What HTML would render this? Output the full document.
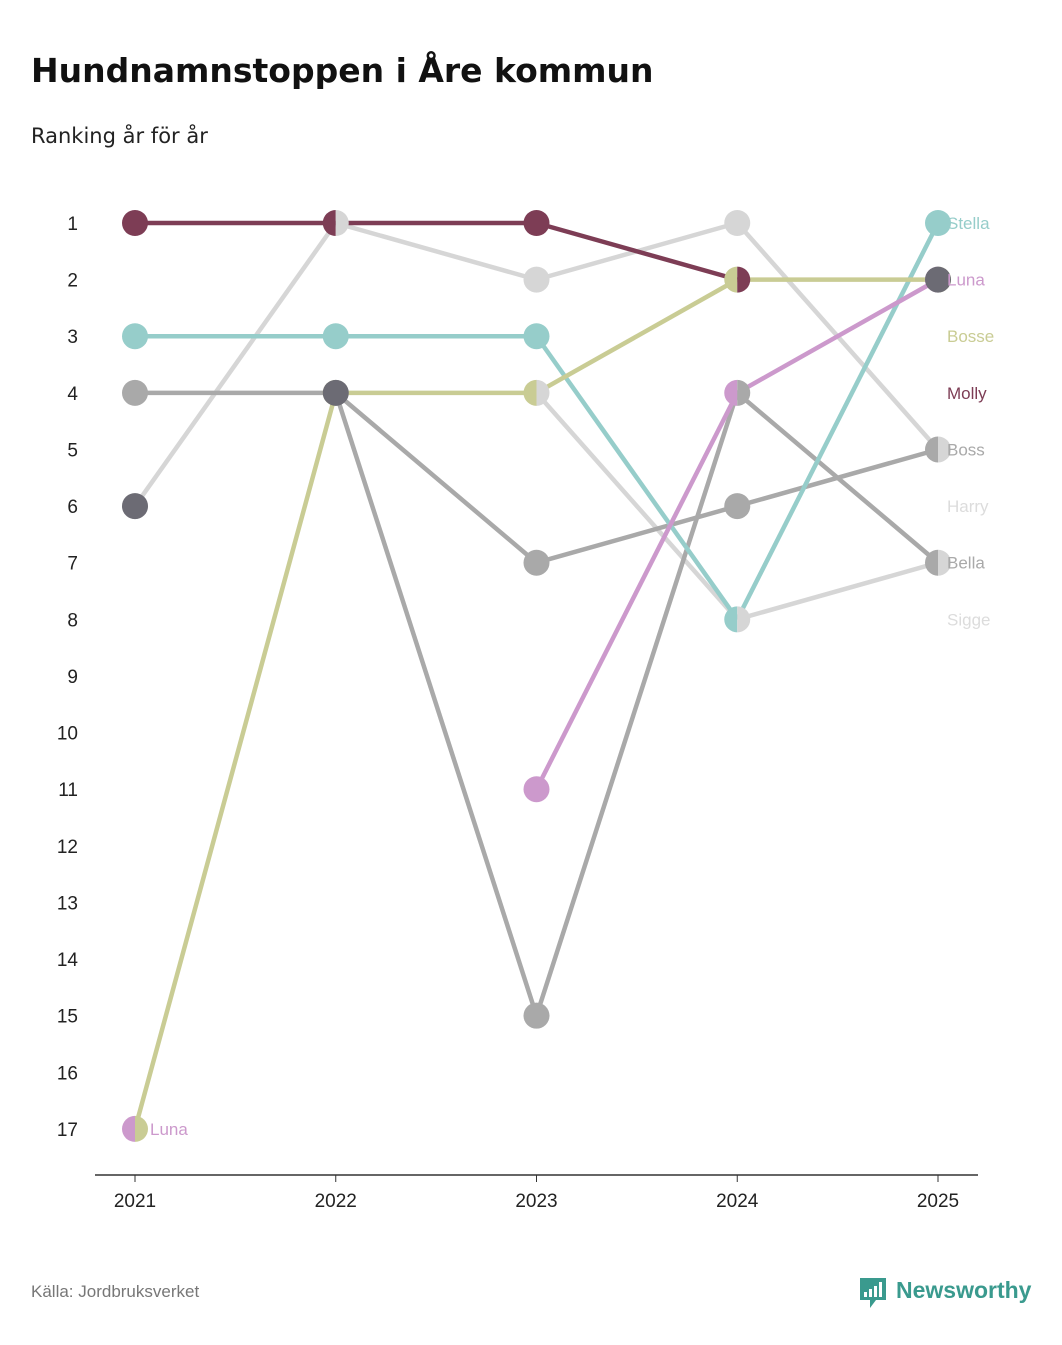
<!DOCTYPE html>
<html><head><meta charset="utf-8"><style>
body{margin:0;background:#fff;width:1062px;height:1340px;overflow:hidden;font-family:"Liberation Sans",sans-serif}
</style></head><body>
<svg width="1062" height="1340">
<text x="31" y="82" font-size="33" font-weight="bold" fill="#111" font-family="DejaVu Sans, sans-serif">Hundnamnstoppen i Åre kommun</text>
<text x="31" y="143" font-size="21" fill="#222" font-family="DejaVu Sans, sans-serif">Ranking år för år</text>
<g id="plot"></g>
<text x="31" y="1297" font-size="17" fill="#777">Källa: Jordbruksverket</text>
<g>
<path d="M860 1278h26v22h-10l-6 8v-8h-10z" fill="#3a9a8e"/>
<rect x="864" y="1292" width="3" height="5" fill="#fff"/><rect x="869" y="1289" width="3" height="8" fill="#fff"/><rect x="874" y="1286" width="3" height="11" fill="#fff"/><rect x="879" y="1282" width="3" height="15" fill="#fff"/>
<text x="896" y="1298" font-size="23" font-weight="bold" fill="#3a9a8e">Newsworthy</text>
</g>
</svg>
<script>
const years=[2021,2022,2023,2024,2025];
const rankTicks=[1,2,3,4,5,6,7,8,9,10,11,12,13,14,15,16,17];
const names=["Luna","Bosse","Molly","Stella","Boss","Bella","Harry","Sigge"];
const colors=["#cc99cc","#c9cc94","#7d3d55","#96cdca","#a9a9a9","#a9a9a9","#d6d6d6","#d6d6d6"];
const ranksLuna=[17,null,11,4,2];
const ranksBosse=[17,4,4,2,2];
const ranksMolly=[1,1,1,2,null];
const ranksStella=[3,3,3,8,1];
const ranksBoss=[4,4,7,6,5];
const ranksBella=[null,4,15,4,7];
const ranksHarry=[6,1,2,1,5];
const ranksSigge=[null,null,4,8,7];
const series=[ranksLuna,ranksBosse,ranksMolly,ranksStella,ranksBoss,ranksBella,ranksHarry,ranksSigge];
const labelRanks=[2,3,4,1,5,7,6,8];
const darkYears=[2021,2022,2025];
const darkRanks=[6,4,2];
const x=y=>135+(y-2021)*200.75;
const yr=r=>223+(r-1)*56.62;
const NS="http://www.w3.org/2000/svg";
const g=document.getElementById('plot');
function mk(t,a,p){const e=document.createElementNS(NS,t);for(const k in a)e.setAttribute(k,a[k]);(p||g).appendChild(e);return e;}
rankTicks.forEach(r=>{const t=mk('text',{x:78,y:yr(r)+7,'font-size':19,'text-anchor':'end',fill:'#222'});t.textContent=r;

});
const ax=mk('line',{x1:95,x2:978,y1:1175,y2:1175,stroke:'#333','stroke-width':1.5});


years.forEach(y=>{mk('line',{x1:x(y),x2:x(y),y1:1175,y2:1182,stroke:'#333'});const t=mk('text',{x:x(y),y:1207,'font-size':19,'text-anchor':'middle',fill:'#222'});t.textContent=y;

});
const order=[6,7,4,5,3,1,0,2];
order.forEach(i=>{const s=series[i];for(let k=0;k<4;k++){if(s[k]!=null&&s[k+1]!=null){const l=mk('line',{x1:x(years[k]),y1:yr(s[k]),x2:x(years[k+1]),y2:yr(s[k+1]),stroke:colors[i],'stroke-width':4.5});

}}});
const R=13;
years.forEach((y,k)=>{const grp={};series.forEach((s,i)=>{if(s[k]!=null)(grp[s[k]]=grp[s[k]]||[]).push(i);});
for(const r in grp){const ids=grp[r],cx=x(y),cy=yr(+r);
if(ids.length===1){const c=mk('circle',{cx,cy,r:R,fill:colors[ids[0]]});}
else{const a=mk('path',{d:`M${cx} ${cy-R}A${R} ${R} 0 0 0 ${cx} ${cy+R}Z`,fill:colors[ids[0]]});
const b=mk('path',{d:`M${cx} ${cy-R}A${R} ${R} 0 0 1 ${cx} ${cy+R}Z`,fill:colors[ids[1]]});}}});
darkYears.forEach((y,k)=>{const c=mk('circle',{cx:x(y),cy:yr(darkRanks[k]),r:R,fill:'#6c6b74'});

});
const labelColors=["#cc99cc","#c9cc94","#7d3d55","#96cdca","#a9a9a9","#a9a9a9","#dcdcdc","#dcdcdc"];
names.forEach((n,i)=>{const t=mk('text',{x:947,y:yr(labelRanks[i])+6,'font-size':17,fill:labelColors[i]});t.textContent=n;

});
const lt=mk('text',{x:150,y:yr(17)+6,'font-size':17,fill:'#cc99cc'});lt.textContent='Luna';


</script>
</body></html>
